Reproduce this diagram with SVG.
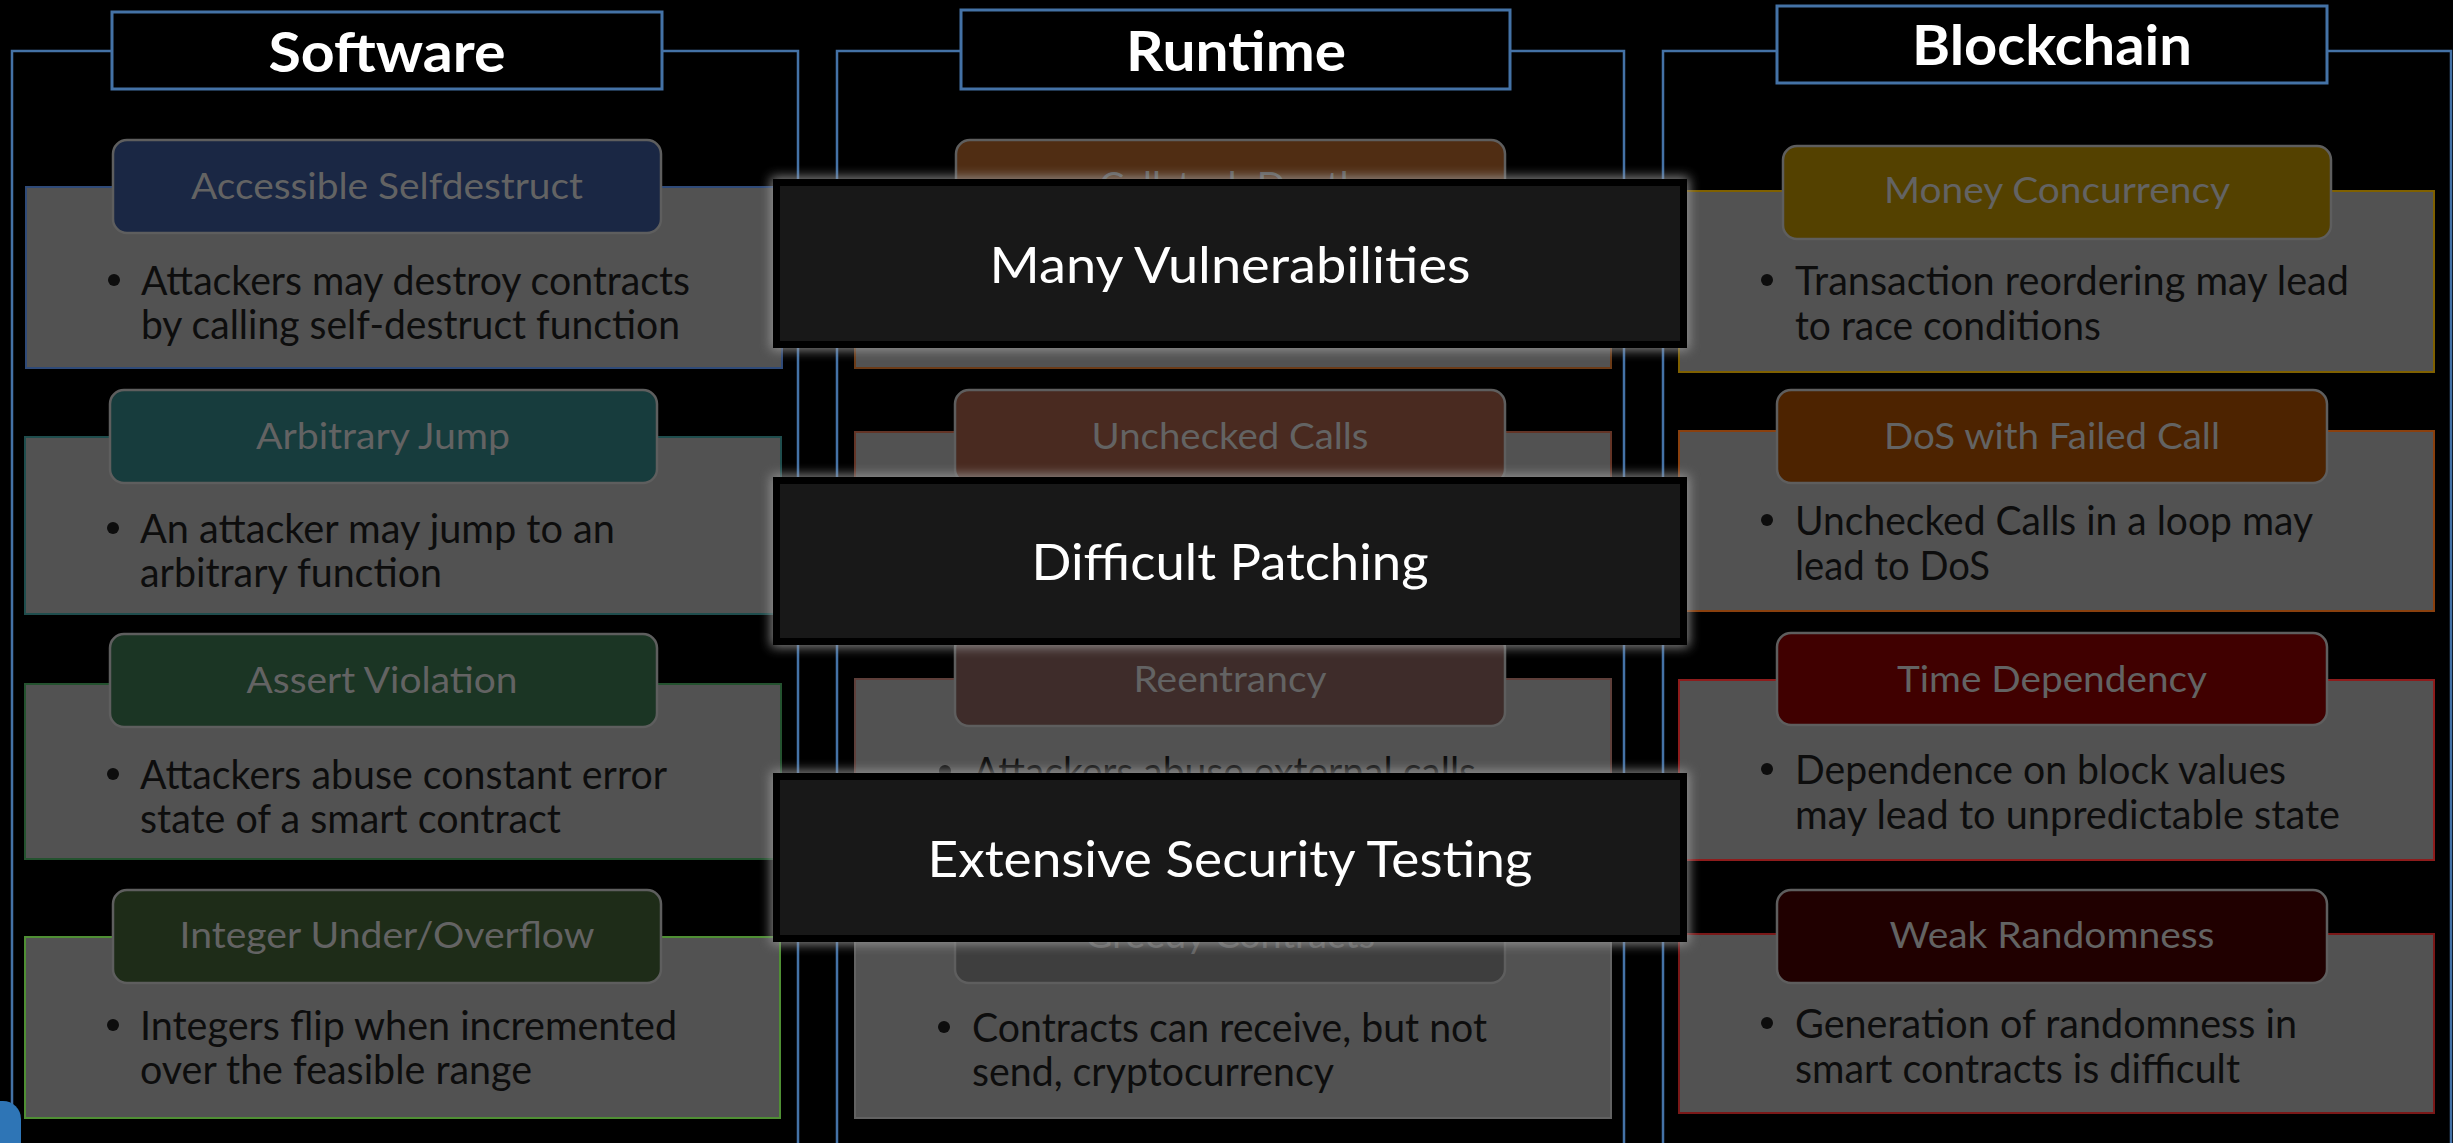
<svg xmlns="http://www.w3.org/2000/svg" width="2453" height="1143" viewBox="0 0 2453 1143">
<style>
.frame{fill:none;stroke:#4472a6;stroke-width:2.5}
.hbox{fill:#000;stroke:#4472a6;stroke-width:3}
.htxt{font-family:Lato,"Open Sans",sans-serif;font-weight:700;font-size:55px;fill:#fff;text-anchor:middle}
.box{fill:#525252;stroke-width:2}
.pill{stroke:#5e5e5e;stroke-width:2.5}
.ptxt{font-family:Lato,"Open Sans",sans-serif;font-size:36px;fill:#636363;text-anchor:middle}
.btxt{font-family:Lato,"Open Sans",sans-serif;font-size:40px;fill:#0d0d0d}
.dot{fill:#0d0d0d}
.glow{fill:#a0a0a0;opacity:.85}
.ov{fill:#181818;stroke:#000;stroke-width:7}
.otxt{font-family:Lato,"Open Sans",sans-serif;font-size:51px;fill:#fff;text-anchor:middle}
</style>
<defs>
<filter id="blur" x="-5%" y="-20%" width="110%" height="140%"><feGaussianBlur stdDeviation="6"/></filter>
</defs>
<rect width="2453" height="1143" fill="#000"/>

<g id="col-software">
<rect class="frame" x="12" y="51" width="786" height="1200"/>
<rect class="hbox" x="112" y="12" width="550" height="77"/>
<text class="htxt" x="387" y="72" textLength="237" lengthAdjust="spacingAndGlyphs">Software</text>
</g>
<g id="col-runtime">
<rect class="frame" x="837" y="51" width="787" height="1200"/>
<rect class="hbox" x="961" y="10" width="549" height="79"/>
<text class="htxt" x="1236" y="71" textLength="220" lengthAdjust="spacingAndGlyphs">Runtime</text>
</g>
<g id="col-blockchain">
<rect class="frame" x="1663" y="51" width="788" height="1200"/>
<rect class="hbox" x="1777" y="6" width="550" height="77"/>
<text class="htxt" x="2052" y="65" textLength="280" lengthAdjust="spacingAndGlyphs">Blockchain</text>
</g>

<g id="connectors"></g>

<!-- Software cards -->
<g id="sw-selfdestruct">
<rect class="box" x="26" y="187" width="756" height="181" stroke="#2f4a78"/>
<rect class="pill" x="113" y="140" width="548" height="93" rx="14" fill="#1a2744"/>
<text class="ptxt" x="387" y="199" textLength="392" lengthAdjust="spacingAndGlyphs">Accessible Selfdestruct</text>
<circle class="dot" cx="114" cy="280" r="6"/>
<text class="btxt"><tspan x="141" y="295" textLength="549" lengthAdjust="spacingAndGlyphs">Attackers may destroy contracts</tspan><tspan x="141" y="339" textLength="539" lengthAdjust="spacingAndGlyphs">by calling self-destruct function</tspan></text>
</g>
<g id="sw-jump">
<rect class="box" x="25" y="437" width="756" height="177" stroke="#1f4d4d"/>
<rect class="pill" x="110" y="390" width="547" height="93" rx="14" fill="#173c3d"/>
<text class="ptxt" x="383" y="449" textLength="254" lengthAdjust="spacingAndGlyphs">Arbitrary Jump</text>
<circle class="dot" cx="113" cy="528" r="6"/>
<text class="btxt"><tspan x="140" y="543" textLength="475" lengthAdjust="spacingAndGlyphs">An attacker may jump to an</tspan><tspan x="140" y="587" textLength="302" lengthAdjust="spacingAndGlyphs">arbitrary function</tspan></text>
</g>
<g id="sw-assert">
<rect class="box" x="25" y="684" width="756" height="175" stroke="#24522f"/>
<rect class="pill" x="110" y="634" width="547" height="93" rx="14" fill="#1b3524"/>
<text class="ptxt" x="382" y="693" textLength="271" lengthAdjust="spacingAndGlyphs">Assert Violation</text>
<circle class="dot" cx="113" cy="774" r="6"/>
<text class="btxt"><tspan x="140" y="789" textLength="527" lengthAdjust="spacingAndGlyphs">Attackers abuse constant error</tspan><tspan x="140" y="833" textLength="421" lengthAdjust="spacingAndGlyphs">state of a smart contract</tspan></text>
</g>
<g id="sw-integer">
<rect class="box" x="25" y="937" width="755" height="181" stroke="#4f8f34"/>
<rect class="pill" x="113" y="890" width="548" height="93" rx="14" fill="#1e2c18"/>
<text class="ptxt" x="387" y="948" textLength="415" lengthAdjust="spacingAndGlyphs">Integer Under/Overflow</text>
<circle class="dot" cx="113" cy="1025" r="6"/>
<text class="btxt"><tspan x="140" y="1040" textLength="537" lengthAdjust="spacingAndGlyphs">Integers flip when incremented</tspan><tspan x="140" y="1084" textLength="392" lengthAdjust="spacingAndGlyphs">over the feasible range</tspan></text>
</g>

<!-- Runtime cards -->
<g id="rt-callstack">
<rect class="box" x="855" y="187" width="756" height="181" stroke="#6b3a16"/>
<rect class="pill" x="956" y="140" width="549" height="93" rx="14" fill="#502d13"/>
<text class="ptxt" x="1230" y="198" textLength="262" lengthAdjust="spacingAndGlyphs">Callstack Depth</text>
</g>
<g id="rt-unchecked">
<rect class="box" x="855" y="432" width="756" height="180" stroke="#633426"/>
<rect class="pill" x="955" y="390" width="550" height="93" rx="14" fill="#492a20"/>
<text class="ptxt" x="1230" y="449" textLength="277" lengthAdjust="spacingAndGlyphs">Unchecked Calls</text>
</g>
<g id="rt-reentrancy">
<rect class="box" x="855" y="679" width="756" height="180" stroke="#5e3f3a"/>
<rect class="pill" x="955" y="634" width="550" height="92" rx="14" fill="#3e2c2a"/>
<text class="ptxt" x="1230" y="692" textLength="193" lengthAdjust="spacingAndGlyphs">Reentrancy</text>
<circle class="dot" cx="945" cy="771" r="6"/>
<text class="btxt" x="973" y="786" textLength="503" lengthAdjust="spacingAndGlyphs">Attackers abuse external calls</text>
</g>
<g id="rt-greedy">
<rect class="box" x="855" y="934" width="756" height="184" stroke="#626262"/>
<rect class="pill" x="955" y="890" width="550" height="93" rx="14" fill="#3e3e3e"/>
<text class="ptxt" x="1230" y="948" textLength="290" lengthAdjust="spacingAndGlyphs">Greedy Contracts</text>
<circle class="dot" cx="944" cy="1027" r="6"/>
<text class="btxt"><tspan x="972" y="1042" textLength="515" lengthAdjust="spacingAndGlyphs">Contracts can receive, but not</tspan><tspan x="972" y="1086" textLength="362" lengthAdjust="spacingAndGlyphs">send, cryptocurrency</tspan></text>
</g>

<!-- Blockchain cards -->
<g id="bc-money">
<rect class="box" x="1679" y="191" width="755" height="181" stroke="#7f6000"/>
<rect class="pill" x="1783" y="146" width="548" height="93" rx="14" fill="#544100"/>
<text class="ptxt" x="2057" y="203" textLength="346" lengthAdjust="spacingAndGlyphs">Money Concurrency</text>
<circle class="dot" cx="1767" cy="280" r="6"/>
<text class="btxt"><tspan x="1795" y="295" textLength="554" lengthAdjust="spacingAndGlyphs">Transaction reordering may lead</tspan><tspan x="1795" y="340" textLength="306" lengthAdjust="spacingAndGlyphs">to race conditions</tspan></text>
</g>
<g id="bc-dos">
<rect class="box" x="1679" y="431" width="755" height="180" stroke="#8a400e"/>
<rect class="pill" x="1777" y="390" width="550" height="93" rx="14" fill="#4d2300"/>
<text class="ptxt" x="2052" y="449" textLength="336" lengthAdjust="spacingAndGlyphs">DoS with Failed Call</text>
<circle class="dot" cx="1767" cy="520" r="6"/>
<text class="btxt"><tspan x="1795" y="535" textLength="518" lengthAdjust="spacingAndGlyphs">Unchecked Calls in a loop may</tspan><tspan x="1795" y="580" textLength="195" lengthAdjust="spacingAndGlyphs">lead to DoS</tspan></text>
</g>
<g id="bc-time">
<rect class="box" x="1679" y="680" width="755" height="180" stroke="#8e1c1c"/>
<rect class="pill" x="1777" y="633" width="550" height="92" rx="14" fill="#400000"/>
<text class="ptxt" x="2052" y="692" textLength="310" lengthAdjust="spacingAndGlyphs">Time Dependency</text>
<circle class="dot" cx="1767" cy="769" r="6"/>
<text class="btxt"><tspan x="1795" y="784" textLength="491" lengthAdjust="spacingAndGlyphs">Dependence on block values</tspan><tspan x="1795" y="829" textLength="545" lengthAdjust="spacingAndGlyphs">may lead to unpredictable state</tspan></text>
</g>
<g id="bc-random">
<rect class="box" x="1679" y="934" width="755" height="179" stroke="#7a1818"/>
<rect class="pill" x="1777" y="890" width="550" height="93" rx="14" fill="#200000"/>
<text class="ptxt" x="2052" y="948" textLength="325" lengthAdjust="spacingAndGlyphs">Weak Randomness</text>
<circle class="dot" cx="1767" cy="1023" r="6"/>
<text class="btxt"><tspan x="1795" y="1038" textLength="502" lengthAdjust="spacingAndGlyphs">Generation of randomness in</tspan><tspan x="1795" y="1083" textLength="445" lengthAdjust="spacingAndGlyphs">smart contracts is difficult</tspan></text>
</g>

<!-- Overlays -->
<g id="ov-many">
<rect class="glow" x="771" y="177" width="918" height="173" filter="url(#blur)"/>
<rect class="ov" x="776.5" y="182.5" width="907" height="162"/>
<text class="otxt" x="1230" y="283" textLength="481" lengthAdjust="spacingAndGlyphs">Many Vulnerabilities</text>
</g>
<g id="ov-patching">
<rect class="glow" x="771" y="475" width="918" height="172" filter="url(#blur)"/>
<rect class="ov" x="776.5" y="480.5" width="907" height="161"/>
<text class="otxt" x="1230" y="580" textLength="397" lengthAdjust="spacingAndGlyphs">Difficult Patching</text>
</g>
<g id="ov-testing">
<rect class="glow" x="771" y="771" width="918" height="173" filter="url(#blur)"/>
<rect class="ov" x="776.5" y="776.5" width="907" height="162"/>
<text class="otxt" x="1230" y="877" textLength="605" lengthAdjust="spacingAndGlyphs">Extensive Security Testing</text>
</g>

<rect id="nav" x="-25" y="1101" width="46" height="70" rx="18" fill="#2e75b6"/>
</svg>
